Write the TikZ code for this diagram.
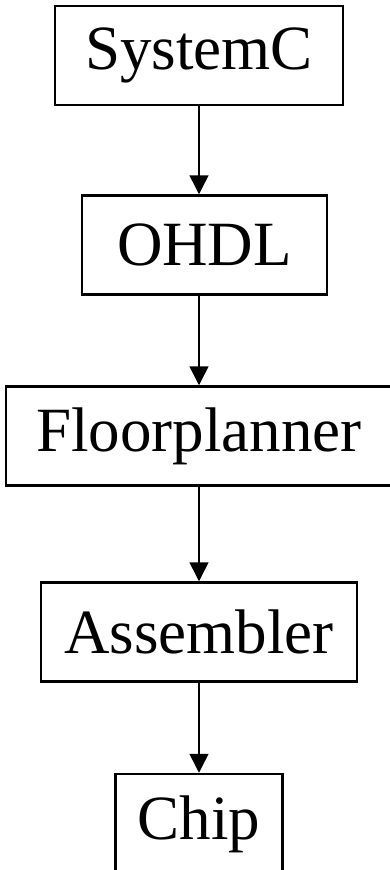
\documentclass[tikz,border=0pt]{standalone}
\usepackage{fontspec}
\setmainfont{Liberation Serif}
\usetikzlibrary{arrows.meta}

\begin{document}
\begin{tikzpicture}[x=1pt, y=-1pt]
    % settings for the tool chain boxes
    \tikzset{
      stage/.style={draw, line width=2.5pt, minimum height=99pt,
                    inner sep=0pt, font=\fontsize{63}{70}\selectfont},
      flow/.style={line width=1.5pt, -{Triangle[width=19pt, length=19pt]}},
    }

    \useasboundingbox (0,0) rectangle (389,870);

    % stages
    \node[stage, minimum width=288pt] (systemc) at (199, 55.5) {SystemC};
    \node[stage, minimum width=245pt] (ohdl)    at (204.5, 245) {OHDL};
    \node[stage, minimum width=386pt] (floor)   at (199, 436) {Floorplanner};
    \node[stage, minimum width=316pt] (asm)     at (199, 632) {Assembler};
    \node[stage, minimum width=167pt, minimum height=100pt] (chip) at (199, 824) {Chip};

    % flow between stages
    \draw[flow] (systemc) -- (systemc |- ohdl.north);
    \draw[flow] (ohdl.south -| floor) -- (floor);
    \draw[flow] (floor) -- (asm);
    \draw[flow] (asm) -- (chip);

\end{tikzpicture}
\end{document}
